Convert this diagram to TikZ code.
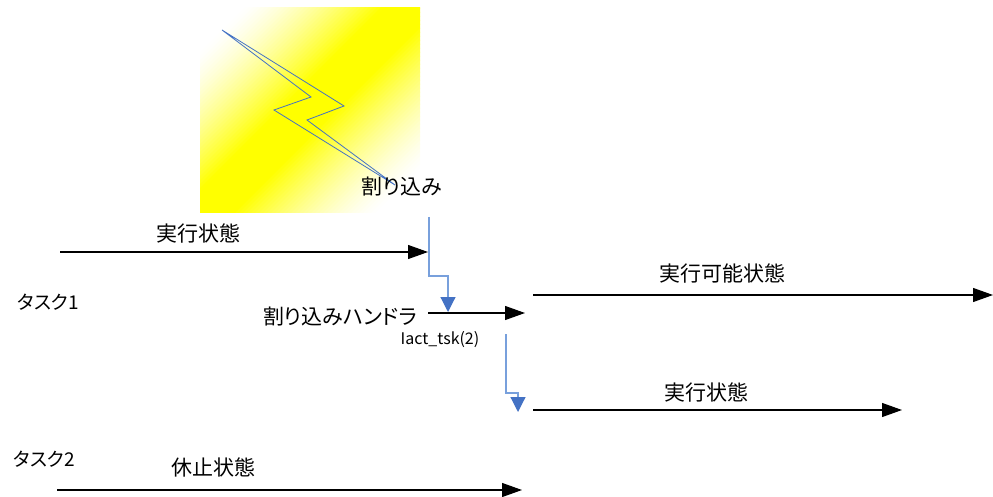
\documentclass[tikz,border=0pt]{standalone}
\usepackage{fontspec}
\newfontfamily\jp[RawFeature=+palt]{Noto Sans CJK JP}
\usetikzlibrary{arrows.meta}

\definecolor{boltblue}{RGB}{68,114,196}
\definecolor{linkblue}{RGB}{120,160,220}
\definecolor{flashyellow}{RGB}{255,255,0}
\definecolor{paper}{RGB}{255,255,255}

\tikzset{
  lbl/.style={font=\jp\fontsize{21}{21}\selectfont, inner sep=0pt},
  tasklbl/.style={font=\jp\fontsize{19}{19}\selectfont, inner sep=0pt},
  smalllbl/.style={font=\jp\fontsize{16}{16}\selectfont, inner sep=0pt},
  statearrow/.style={draw=black, line width=1.2pt, -{Triangle[length=20pt,width=14pt]}},
  linkarrow/.style={draw=linkblue, line width=1.2pt,
    -{Triangle[length=15pt,width=15pt,color=boltblue,fill=boltblue]}}
}

\begin{document}
\begin{tikzpicture}[x=1pt,y=-1pt]
\useasboundingbox (0,0) rectangle (993,497);

% interrupt panel: diagonal white-yellow-white band built from thin strips
\begin{scope}
  \clip (200,8) rectangle (420,213);
  \foreach \i in {0,...,106} {
    \pgfmathsetmacro\pa{\i*4}
    \pgfmathsetmacro\pb{\i*4+4.6}
    \pgfmathsetmacro\tt{(\i*4+2)/425}
    \pgfmathsetmacro\ramp{max(0,min(1,(\tt-0.10)/0.33,(0.90-\tt)/0.34))}
    \pgfmathsetmacro\amt{100*\ramp^1.4}
    \fill[flashyellow!\amt!paper]
      (200+\pa+300,8-300) -- (200+\pa-300,8+300) --
      (200+\pb-300,8+300) -- (200+\pb+300,8-300) -- cycle;
  }
\end{scope}
\draw[boltblue, line width=0.8pt, line join=miter]
  (222,30) -- (311,97) -- (274,110) -- (395,185) -- (307,120) -- (344,106) -- cycle;
\node[lbl] (intr) at (402,187) {割り込み};

% task labels
\node[tasklbl] (task1) at (48,302) {タスク1};
\node[tasklbl] (task2) at (44,459) {タスク2};

% state labels
\node[lbl] (run1)    at (198,233) {実行状態};
\node[lbl] (handler) at (340,317) {割り込みハンドラ};
\node[smalllbl] (iact) at (440,340) {Iact\_tsk(2)};
\node[lbl] (ready)   at (722,273) {実行可能状態};
\node[lbl] (run2)    at (706,392) {実行状態};
\node[lbl] (stop)    at (213,467) {休止状態};

% arrow end points
\coordinate (r1s) at (60,252);   \coordinate (r1e) at (428,252);
\coordinate (h1s) at (428,313);  \coordinate (h1e) at (525,313);
\coordinate (rds) at (533,295);  \coordinate (rde) at (993,295);
\coordinate (r2s) at (533,410);  \coordinate (r2e) at (902,410);
\coordinate (sts) at (57,490);   \coordinate (ste) at (522,490);

% state timelines
\draw[statearrow] (r1s) -- (r1e);
\draw[statearrow] (h1s) -- (h1e);
\draw[statearrow] (rds) -- (rde);
\draw[statearrow] (r2s) -- (r2e);
\draw[statearrow] (sts) -- (ste);

% interrupt and activation links
\coordinate (i1a) at (429,217); \coordinate (i1b) at (429,276);
\coordinate (i1c) at (448,276); \coordinate (i1d) at (448,312);
\draw[linkarrow] (i1a) -- (i1b) -- (i1c) -- (i1d);

\coordinate (k1a) at (506,334); \coordinate (k1b) at (506,393);
\coordinate (k1c) at (518,393); \coordinate (k1d) at (518,412);
\draw[linkarrow] (k1a) -- (k1b) -- (k1c) -- (k1d);
\end{tikzpicture}
\end{document}
